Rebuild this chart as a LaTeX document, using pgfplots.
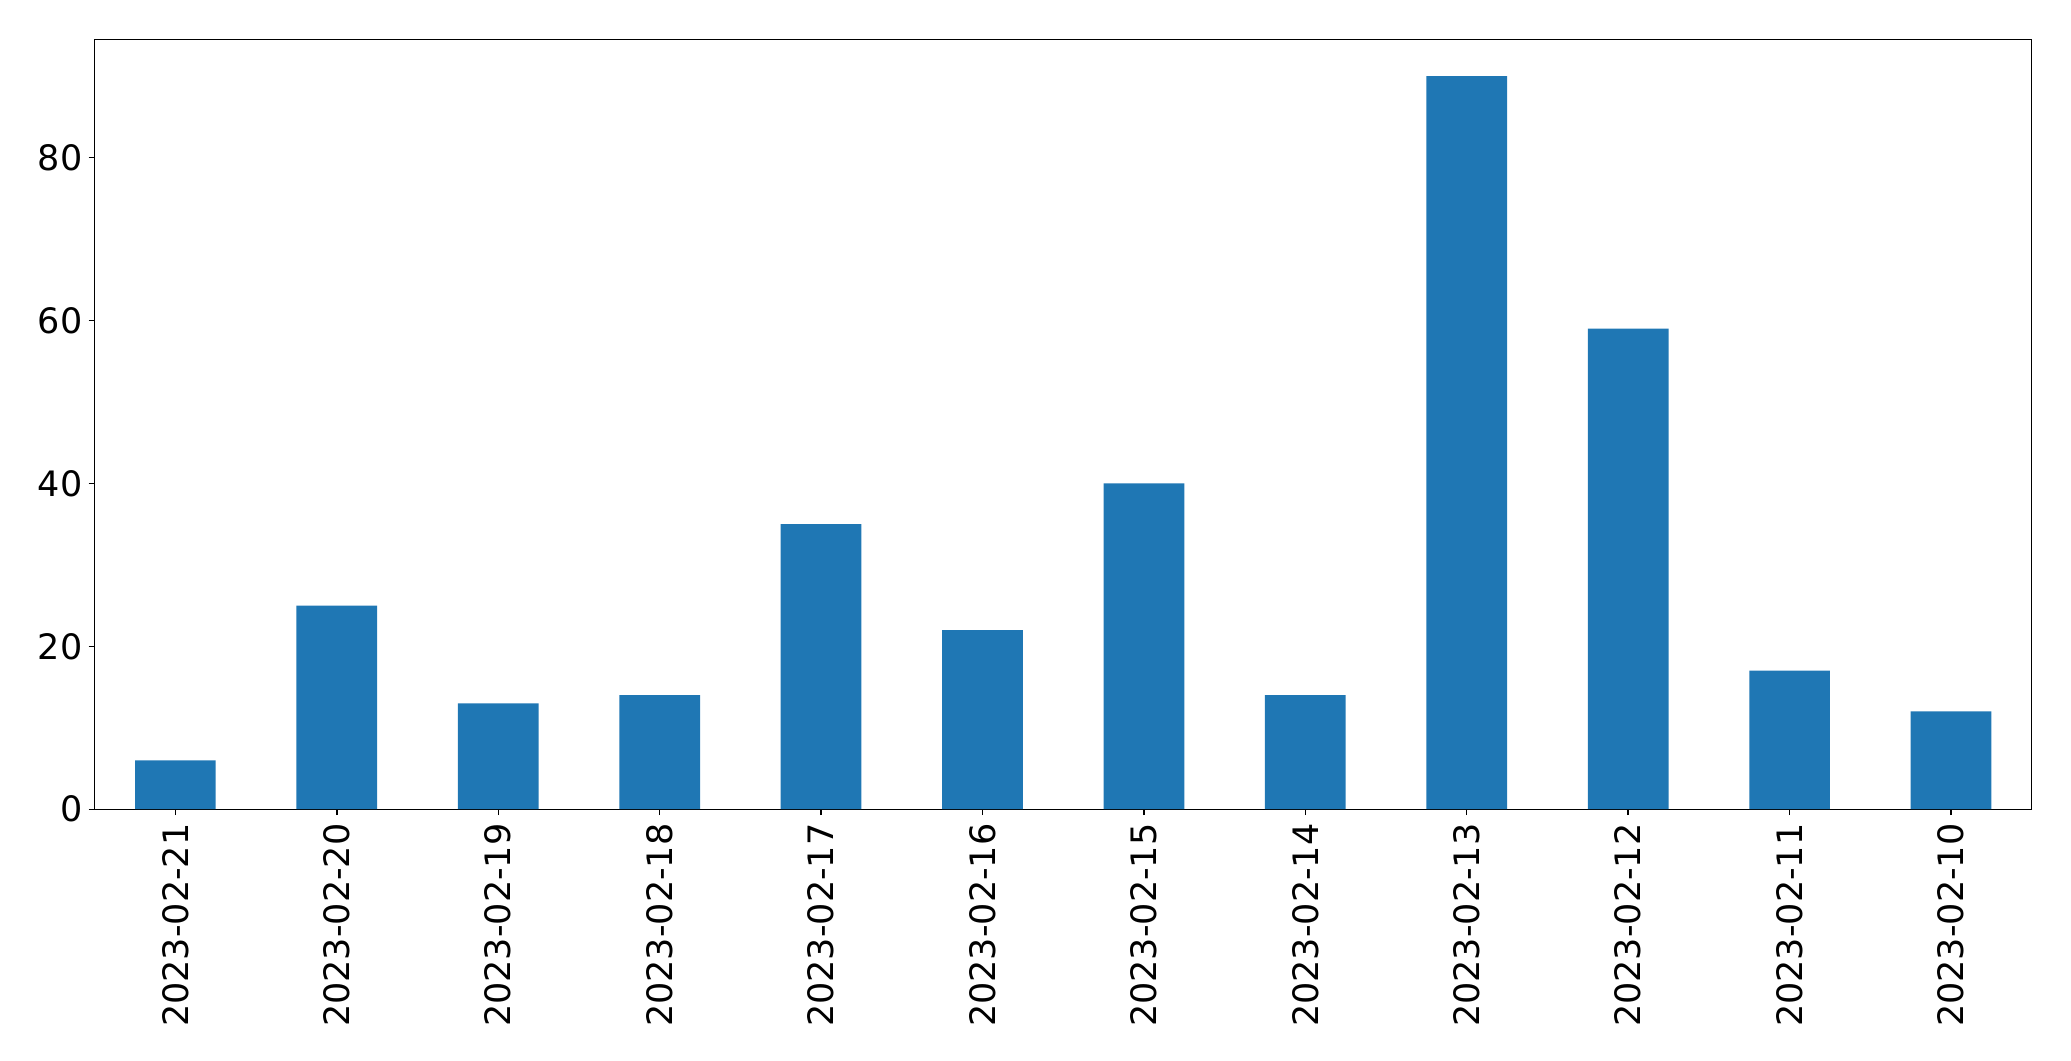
\documentclass[border=0pt]{standalone}
\usepackage{pgfplots}
\pgfplotsset{compat=1.18}
\usepackage{fontspec}
\setmainfont{DejaVu Sans}
\definecolor{mplblue}{HTML}{1F77B4}
\begin{document}
\fontsize{26.25}{31}\selectfont
\begin{tikzpicture}
\path[use as bounding box] (-71.0pt,-188.8pt) rectangle (1482.2pt,606.9pt);
\begin{axis}[
  at={(0pt,0pt)}, anchor=south west,
  scale only axis,
  width=1452.75pt, height=577.35pt,
  xmin=-0.5, xmax=11.5, ymin=0, ymax=94.5,
  xtick=data,
  xticklabels={2023-02-21,2023-02-20,2023-02-19,2023-02-18,2023-02-17,2023-02-16,2023-02-15,2023-02-14,2023-02-13,2023-02-12,2023-02-11,2023-02-10},
  ytick={0,20,40,60,80},
  tick align=outside, tick pos=left,
  major tick length=4.5pt,
  axis line style={line width=1.05pt},
  every tick/.style={line width=1.05pt, black},
  /pgf/number format/assume math mode=true,
  xticklabel style={rotate=90, anchor=east, inner sep=0pt, inner xsep=6pt},
  yticklabel style={anchor=east, inner sep=0pt, inner xsep=4.5pt},
  ticklabel style={font=\fontsize{26.25}{31}\selectfont},
  ybar, bar width=0.5,
]
\addplot[fill=mplblue, draw=none] coordinates {
(0,6) (1,25) (2,13) (3,14) (4,35) (5,22) (6,40) (7,14) (8,90) (9,59) (10,17) (11,12)
};
\end{axis}
\end{tikzpicture}
\end{document}
